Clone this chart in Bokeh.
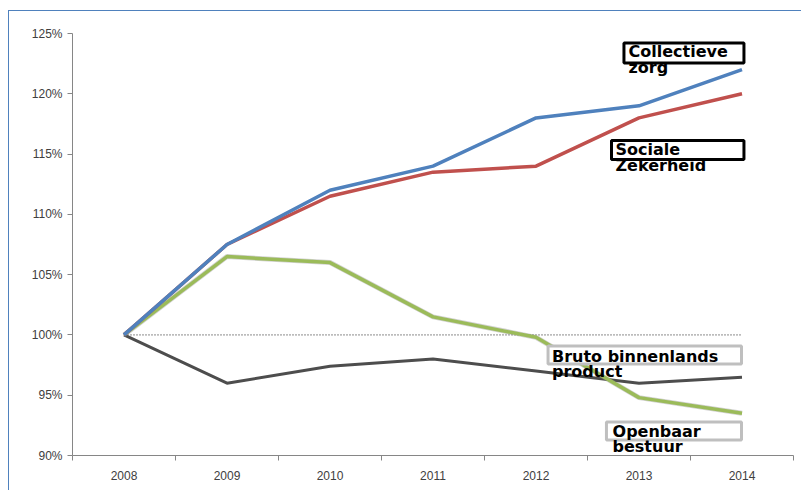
from bokeh.plotting import figure
from bokeh.models import FixedTicker, PrintfTickFormatter, Range1d, BoxAnnotation, ColumnDataSource
from bokeh.core.properties import value
from bokeh.embed import file_html
from bokeh.resources import INLINE

# ---- data ----
years = [2008, 2009, 2010, 2011, 2012, 2013, 2014]
collectieve_zorg = [100, 107.5, 112, 114, 118, 119, 122]
sociale_zekerheid = [100, 107.5, 111.5, 113.5, 114, 118, 120]
openbaar_bestuur = [100, 106.5, 106, 101.5, 99.8, 94.8, 93.5]
bruto_binnenlands_product = [100, 96, 97.4, 98, 97, 96, 96.5]
baseline = [100, 100, 100, 100, 100, 100, 100]
y_ticks = [90, 95, 100, 105, 110, 115, 120, 125]
category_edges = [2007.5, 2008.5, 2009.5, 2010.5, 2011.5, 2012.5, 2013.5, 2014.5]

label_lines = ["Collectieve", "zorg", "Sociale", "Zekerheid",
               "Bruto binnenlands", "product", "Openbaar", "bestuur"]
label_x = [2012.898, 2012.898, 2012.772, 2012.772, 2012.155, 2012.155, 2012.743, 2012.743]
label_y = [123.51, 122.18, 115.34, 114.05, 98.21, 96.97, 92.03, 90.75]

# boxes: (left, right, top, bottom, colour)
boxes = [
    (2012.854, 2014.019, 124.21, 122.55, "#000000"),
    (2012.733, 2014.019, 116.13, 114.55, "#000000"),
    (2012.117, 2013.995, 99.08, 97.59, "#BFBFBF"),
    (2012.684, 2013.995, 92.78, 91.29, "#BFBFBF"),
]

p = figure(width=793, height=480, output_backend="svg", toolbar_location=None,
           x_range=Range1d(2007.5, 2014.5), y_range=Range1d(90, 125),
           min_border_left=63, min_border_right=9, min_border_top=22, min_border_bottom=36)
p.styles = {"border-left": "1px solid #4F81BD", "border-top": "1px solid #4F81BD",
            "margin-top": "10px", "margin-left": "8px"}
p.outline_line_color = None
p.xgrid.visible = False
p.ygrid.visible = False
p.background_fill_color = "white"
p.border_fill_color = "white"

axis_col = "#868686"
lab_col = "#404040"

# x axis
p.xaxis.ticker = FixedTicker(ticks=years, minor_ticks=category_edges)
p.xaxis.formatter = PrintfTickFormatter(format="%d")
p.xaxis.axis_line_color = axis_col
p.xaxis.major_tick_out = 0
p.xaxis.major_tick_in = 0
p.xaxis.minor_tick_out = 5
p.xaxis.minor_tick_in = 0
p.xaxis.minor_tick_line_color = axis_col
p.xaxis.major_label_standoff = 10
p.xaxis.major_label_text_font = "Liberation Sans"
p.xaxis.major_label_text_font_size = "12px"
p.xaxis.major_label_text_color = lab_col

# y axis
p.yaxis.ticker = FixedTicker(ticks=y_ticks, minor_ticks=[])
p.yaxis.formatter = PrintfTickFormatter(format="%d%%")
p.yaxis.axis_line_color = axis_col
p.yaxis.major_tick_line_color = axis_col
p.yaxis.major_tick_out = 5
p.yaxis.major_tick_in = 0
p.yaxis.minor_tick_line_color = None
p.yaxis.major_label_standoff = 5
p.yaxis.major_label_text_font = "Liberation Sans"
p.yaxis.major_label_text_font_size = "12px"
p.yaxis.major_label_text_color = lab_col

src = ColumnDataSource(dict(year=years, cz=collectieve_zorg, sz=sociale_zekerheid,
                            ob=openbaar_bestuur, bbp=bruto_binnenlands_product, base=baseline))

p.line("year", "base", source=src, line_color="#8C8C8C", line_width=1, line_dash="2 1")
p.line("year", "bbp", source=src, line_color="#4D4D4D", line_width=3)
p.line("year", "ob", source=src, line_color="#7F7F7F", line_width=5, line_alpha=0.35)
p.line("year", "ob", source=src, line_color="#9BBB59", line_width=3.5)
p.line("year", "sz", source=src, line_color="#C0504D", line_width=3.5)
p.line("year", "cz", source=src, line_color="#4F81BD", line_width=3.5)

for (l, r, t, b, c) in boxes:
    p.add_layout(BoxAnnotation(left=l, right=r, top=t, bottom=b, fill_color="white",
                               fill_alpha=1, line_color=c, line_width=3, line_alpha=1))

tsrc = ColumnDataSource(dict(x=label_x, y=label_y, t=label_lines))
tr = p.text("x", "y", text="t", source=tsrc, text_font=value("DejaVu Sans"),
            text_font_style="bold", text_font_size="16px", text_color="black",
            text_baseline="alphabetic", text_align="left")
tr.level = "overlay"

open("out.html", "w").write(file_html(p, INLINE))
